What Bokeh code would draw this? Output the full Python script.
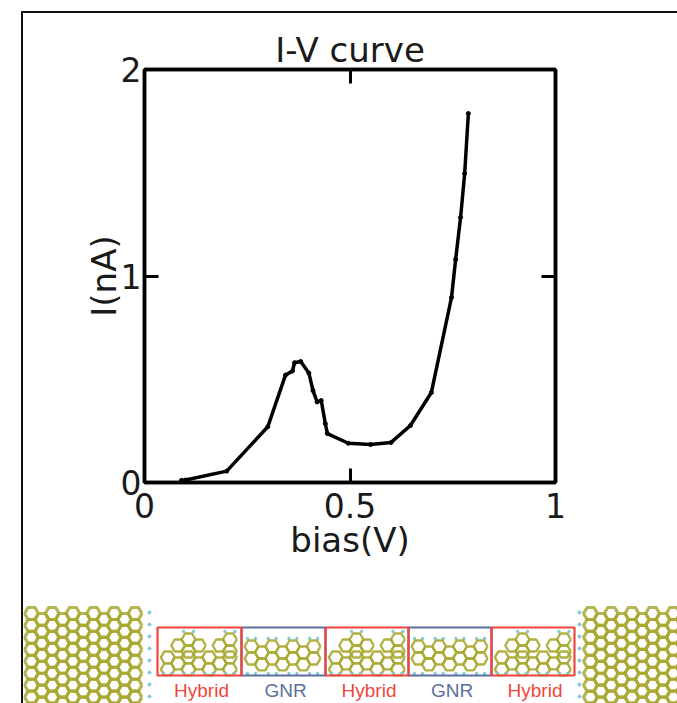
import math
from bokeh.plotting import figure
from bokeh.layouts import column
from bokeh.models import FixedTicker, LinearAxis, Range1d
from bokeh.core.properties import value
from bokeh.embed import file_html
from bokeh.resources import INLINE

# --- chart data ---
bias = [0.09, 0.10, 0.20, 0.30, 0.343, 0.36, 0.365, 0.38, 0.40, 0.41, 0.42, 0.43, 0.44, 0.445,
        0.496, 0.55, 0.60, 0.647, 0.698, 0.747, 0.757, 0.769, 0.779, 0.788]
current = [0.01, 0.012, 0.055, 0.27, 0.52, 0.54, 0.58, 0.586, 0.53, 0.445, 0.39, 0.397, 0.285, 0.237,
           0.19, 0.184, 0.194, 0.276, 0.436, 0.896, 1.08, 1.283, 1.496, 1.787]
x_ticks = [0, 0.5, 1]
y_ticks = [0, 1, 2]

# --- schematic data (bottom strip, in page pixels) ---
sections = ["Hybrid", "GNR", "Hybrid", "GNR", "Hybrid"]
section_edges = [157, 241, 325, 408, 491, 574]
RED, BLUE = "#f0453a", "#5a6f9e"
OLIVE, CYAN = "#a8a832", "#7fc8d8"
INK = "#1a1a1a"
FONT = "DejaVu Sans"

# the page's picture frame runs along the top and the left edge
OX, OY = 23, 13
W, H = 677 - OX, 703 - OY
TOP_H = 590
FL, FR, FT, FB = 144 - OX, 555 - OX, 69 - OY, 482 - OY

p = figure(width=W, height=TOP_H, output_backend="svg", toolbar_location=None,
           x_range=Range1d(0, 1), y_range=Range1d(0, 2), frame_align=False,
           min_border_left=FL, min_border_right=W - FR, min_border_top=FT, min_border_bottom=TOP_H - FB,
           background_fill_color="white", border_fill_color="white")
p.grid.visible = False
p.outline_line_color = "black"
p.outline_line_width = 3.5
p.line(bias, current, line_color="black", line_width=3.5)
p.scatter(bias, current, size=4, color="black")

p.title.text = "I-V curve"
p.title.align = "center"
p.title.text_font = FONT
p.title.text_font_size = "34px"
p.title.text_font_style = "normal"
p.title.text_color = INK
p.title.standoff = 0

def style_ticks(ax, ticks):
    ax.ticker = FixedTicker(ticks=ticks)
    ax.minor_tick_line_color = None
    ax.major_tick_in = 14
    ax.major_tick_out = 0
    ax.major_tick_line_width = 3
    ax.major_tick_line_color = "black"
    ax.axis_line_color = "black"
    ax.axis_line_width = 3.5

for ax, ticks in ((p.xaxis[0], x_ticks), (p.yaxis[0], y_ticks)):
    style_ticks(ax, ticks)
    ax.major_label_overrides = {0: "0", 0.5: "0.5", 1: "1", 2: "2"}
    ax.major_label_text_font = FONT
    ax.major_label_text_font_size = "33px"
    ax.major_label_text_color = INK
    ax.axis_label_text_font = FONT
    ax.axis_label_text_font_size = "34px"
    ax.axis_label_text_font_style = "normal"
    ax.axis_label_text_color = INK
p.xaxis[0].axis_label = "bias(V)"
p.yaxis[0].axis_label = "I(nA)"
p.xaxis[0].major_label_standoff = 10
p.yaxis[0].major_label_standoff = 3
p.xaxis[0].axis_label_standoff = -1
p.yaxis[0].axis_label_standoff = -6
p.yaxis[0].major_label_orientation = "horizontal"

right = LinearAxis(major_label_overrides={t: "" for t in y_ticks})
style_ticks(right, y_ticks)
p.add_layout(right, "right")
top = LinearAxis(major_label_overrides={t: "" for t in x_ticks})
style_ticks(top, x_ticks)
p.add_layout(top, "above")

# --- bottom strip ---
BH = H - TOP_H
Y0 = OY + TOP_H
q = figure(width=W, height=BH, output_backend="svg", toolbar_location=None,
           x_range=Range1d(OX, 677), y_range=Range1d(703, Y0), frame_align=False,
           min_border=0, x_axis_type=None, y_axis_type=None,
           background_fill_color="white", border_fill_color="white")
q.grid.visible = False
q.outline_line_color = None

R = 6.9
DX, DY = 3 * R, R * math.sqrt(3) / 2

def hexagon(cx, cy):
    return ([cx + R * math.cos(math.radians(a)) for a in range(0, 361, 60)],
            [cy + R * math.sin(math.radians(a)) for a in range(0, 361, 60)])

def rows(x0, x1, y0, n):
    """Centres of n staggered honeycomb rows between x0 and x1."""
    out = []
    for k in range(n):
        x = x0 + (k % 2) * DX / 2
        while x <= x1:
            out.append((x, y0 + k * DY))
            x += DX
    return out

def draw(cells, width, alpha):
    pts = [hexagon(*c) for c in cells]
    q.multi_line([a for a, _ in pts], [b for _, b in pts],
                 line_color=OLIVE, line_width=width, line_alpha=alpha)

# electrodes
for x0, x1 in ((31, 141), (590, 690)):
    draw(rows(x0, x1, 613, 17), 3.2, 0.85)
for xc in (149, 579):
    q.scatter([xc] * 8, [612 + 12 * k for k in range(8)], size=3, color=CYAN)

# ribbon pieces
for i, name in enumerate(sections):
    l, r = section_edges[i], section_edges[i + 1]
    if name == "GNR":
        cells = rows(l + 10, r - 6, 646, 4)
        q.scatter([l + 10 + DX * k + s for k in range(4) for s in (-4, 4)], [638] * 8, size=2.5, color=CYAN)
    else:
        c1, c2 = l + 31, l + 31 + 2 * DX
        cells = []
        for c in (c1, c2):
            cells += [(c, 639), (c - DX / 2, 639 + DY), (c + DX / 2, 639 + DY), (c, 639 + 2 * DY)]
            q.scatter([c - 5, c + 5], [631, 631], size=2.5, color=CYAN)
        cells = [cell for cell in cells if cell[0] <= r - 4]
        cells += rows(c1 - DX, r - 6, 639 + 3 * DY, 3)
    draw(cells, 2.4, 0.9)
    q.scatter([l + 10 + DX * k + s for k in range(4) for s in (-4, 4)], [673] * 8, size=2.5, color=CYAN)

for want in ("GNR", "Hybrid"):
    for i, name in enumerate(sections):
        if name != want:
            continue
        l, r = section_edges[i], section_edges[i + 1]
        col = RED if name == "Hybrid" else BLUE
        q.quad(left=[l], right=[r], top=[627], bottom=[675], fill_color=None, line_color=col, line_width=2.2)
for i, name in enumerate(sections):
    l, r = section_edges[i], section_edges[i + 1]
    col = RED if name == "Hybrid" else BLUE
    q.text([(l + r) / 2 + 2], [690], text=[name], text_color=col, text_font_size="19px",
           text_align="center", text_baseline="middle", text_font=value("Liberation Sans"))

page = column(p, q, spacing=0, margin=(OY - 2, 0, 0, OX - 2),
              styles={"border-top": "2px solid #111", "border-left": "2px solid #111"})
open("out.html", "w").write(file_html(page, INLINE))
